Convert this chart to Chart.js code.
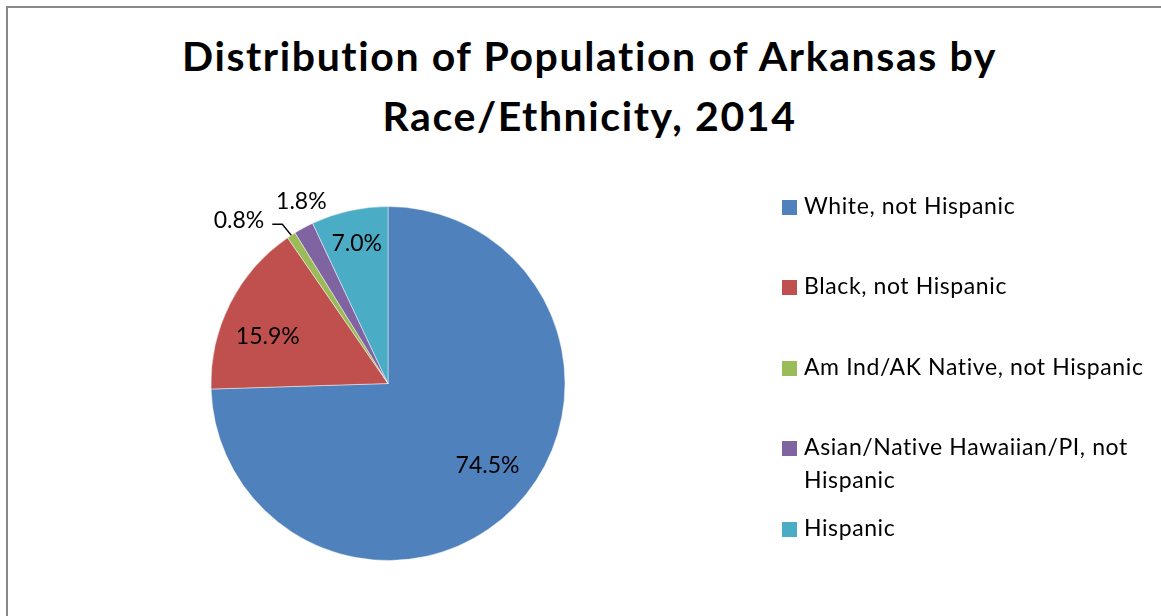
<!DOCTYPE html>
<html>
<head>
<meta charset="utf-8">
<title>Distribution of Population of Arkansas by Race/Ethnicity, 2014</title>
<script src="https://cdn.jsdelivr.net/npm/chart.js@4.4.1/dist/chart.umd.min.js"></script>
<style>
  html, body { margin: 0; padding: 0; background: #fff; overflow: hidden; }
  body { width: 1161px; height: 616px; position: relative; font-family: Lato, sans-serif; color: #000; }
  .moldura { position: absolute; left: 6px; top: 6px; width: 1200px; height: 700px; border-left: 2px solid #888; border-top: 2px solid #888; }
  .titulo { position: absolute; left: 0; top: 26px; width: 1179px; text-align: center; font-weight: bold; font-size: 41px; line-height: 60px; letter-spacing: 1.6px; font-variant-ligatures: none; }
  .grafico { position: absolute; left: 8px; top: 8px; }
  .legenda-item { position: absolute; left: 804px; width: 352px; font-size: 23px; line-height: 33px; letter-spacing: 0.6px; }
  .legenda-item .cor { position: absolute; left: -22px; top: 11px; width: 15px; height: 15px; }
</style>
</head>
<body>
<div class="moldura"></div>
<div class="titulo">Distribution of Population of Arkansas by<br>Race/Ethnicity, 2014</div>
<div class="grafico"><canvas id="graficoPizza" width="1163" height="608"></canvas></div>
<div id="legenda"></div>

<script>
const categorias = [
  'White, not Hispanic',
  'Black, not Hispanic',
  'Am Ind/AK Native, not Hispanic',
  'Asian/Native Hawaiian/PI, not Hispanic',
  'Hispanic'
];
const valores = [74.5, 15.9, 0.8, 1.8, 7.0];
const cores = ['#4F81BD', '#C0504D', '#9BBB59', '#8064A2', '#4BACC6'];

// posição dos rótulos: fração do raio e desvio em graus do meio da fatia
const posRotulos = [
  { r: 0.73, da: -4.5 },
  { r: 0.73, da: -5.3 },
  { guia: true },
  { r: 1.14, da: 3 },
  { r: 0.81, da: 0 }
];

Chart.defaults.font.family = 'Lato';

// Rótulos de porcentagem desenhados sobre as fatias
const rotulosPlugin = {
  id: 'rotulos',
  afterDatasetsDraw(chart) {
    const ctx = chart.ctx;
    const meta = chart.getDatasetMeta(0);
    ctx.save();
    ctx.font = '23px Lato';
    ctx.fillStyle = '#000';
    ctx.textBaseline = 'middle';
    meta.data.forEach((arc, i) => {
      const texto = valores[i].toFixed(1) + '%';
      const pos = posRotulos[i];
      const meio = (arc.startAngle + arc.endAngle) / 2;
      const R = arc.outerRadius;
      if (pos.guia) {
        // fatia pequena: linha guia até o texto
        const x0 = arc.x + Math.cos(meio) * R;
        const y0 = arc.y + Math.sin(meio) * R;
        const x1 = x0 - 9, y1 = y0 - 11, x2 = x1 - 10;
        ctx.strokeStyle = '#000';
        ctx.lineWidth = 1.3;
        ctx.beginPath();
        ctx.moveTo(x0, y0);
        ctx.lineTo(x1, y1);
        ctx.lineTo(x2, y1);
        ctx.stroke();
        ctx.textAlign = 'right';
        ctx.fillText(texto, x2 - 8, y1 - 4);
      } else {
        const ang = meio + pos.da * Math.PI / 180;
        ctx.textAlign = 'center';
        ctx.fillText(texto, arc.x + Math.cos(ang) * R * pos.r, arc.y + Math.sin(ang) * R * pos.r);
      }
    });
    ctx.restore();
  }
};

const ctx = document.getElementById('graficoPizza').getContext('2d');
const chart = new Chart(ctx, {
  type: 'pie',
  data: {
    labels: categorias,
    datasets: [{
      data: valores,
      backgroundColor: cores,
      borderColor: 'rgba(255,255,255,0.45)',
      borderWidth: 1
    }]
  },
  options: {
    responsive: false,
    animation: false,
    layout: {
      padding: { left: 202.5, right: 605.5, top: 198, bottom: 55 }
    },
    plugins: {
      legend: { display: false },
      title: { display: false },
      tooltip: { enabled: false }
    }
  },
  plugins: [rotulosPlugin]
});

// Legenda montada a partir dos dados do gráfico
function montarLegenda() {
  const box = document.getElementById('legenda');
  chart.data.labels.forEach((nome, i) => {
    const item = document.createElement('div');
    item.className = 'legenda-item';
    item.style.top = (188.6 + i * 80.5) + 'px';
    const cor = document.createElement('span');
    cor.className = 'cor';
    cor.style.background = chart.data.datasets[0].backgroundColor[i];
    item.appendChild(cor);
    item.appendChild(document.createTextNode(nome));
    box.appendChild(item);
  });
}
montarLegenda();
</script>
</body>
</html>
